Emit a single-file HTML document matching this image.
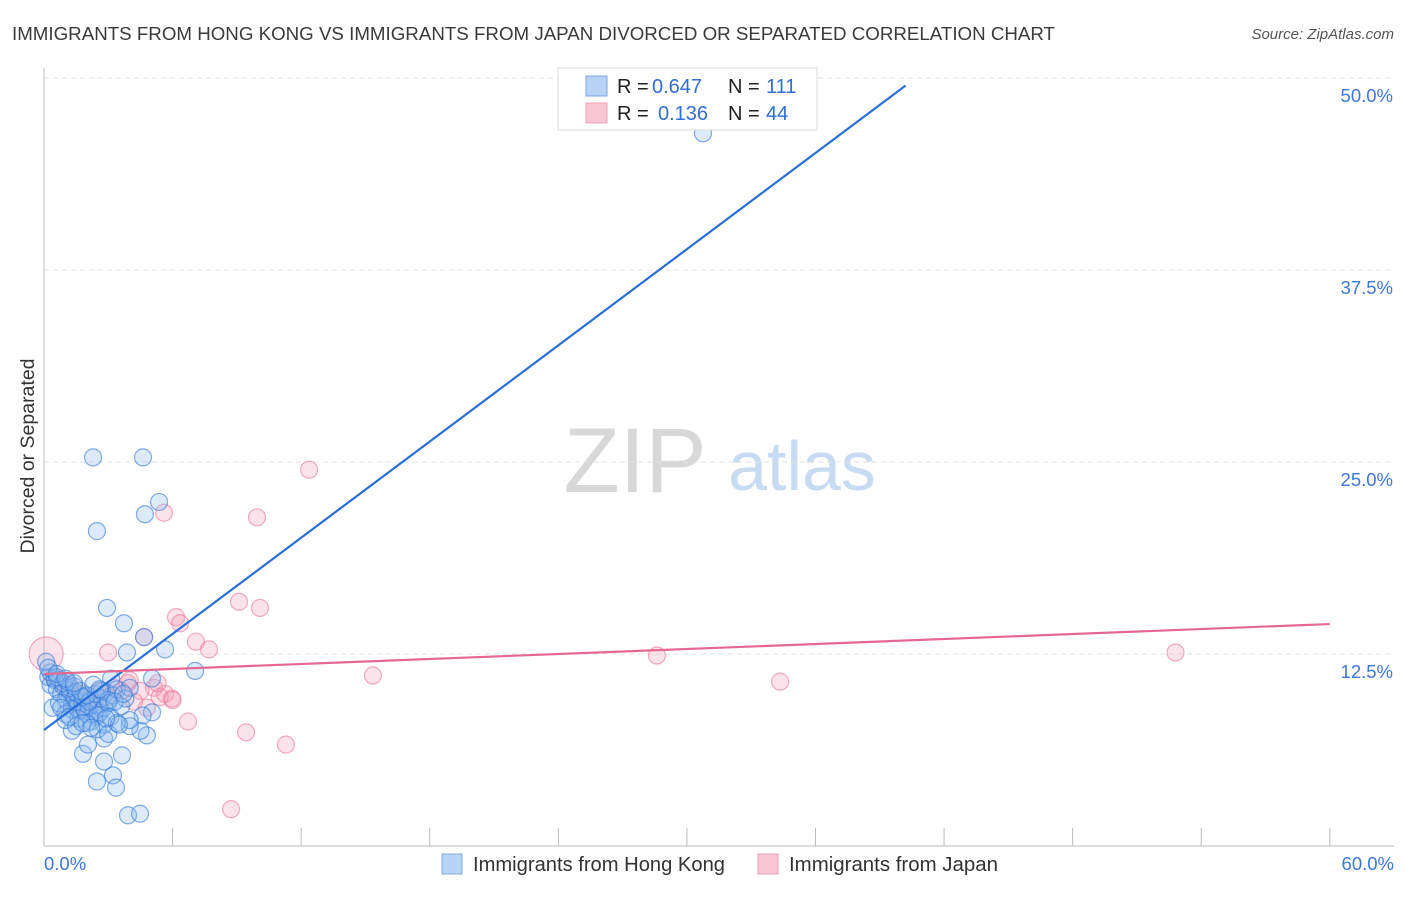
<!DOCTYPE html>
<html><head><meta charset="utf-8"><style>
body{margin:0;background:#fff;font-family:"Liberation Sans",sans-serif;}
svg text{font-family:"Liberation Sans",sans-serif;}
</style></head><body>
<svg id="chart" width="1406" height="892" xmlns="http://www.w3.org/2000/svg">
<text x="12" y="40" font-size="18.5" fill="#3a3a3a" textLength="1043" lengthAdjust="spacingAndGlyphs">IMMIGRANTS FROM HONG KONG VS IMMIGRANTS FROM JAPAN DIVORCED OR SEPARATED CORRELATION CHART</text>
<text x="1394" y="39" font-size="15" fill="#555" text-anchor="end" font-style="italic">Source: ZipAtlas.com</text>
<text transform="translate(34,456) rotate(-90)" font-size="19" fill="#333" text-anchor="middle" textLength="195" lengthAdjust="spacingAndGlyphs">Divorced or Separated</text>
<g>
<text x="635" y="492" font-size="92" fill="#d8d8d8" text-anchor="middle" font-family="Liberation Serif,serif">ZIP</text>
<text x="802" y="490" font-size="70" fill="#c9dbf3" text-anchor="middle">atlas</text>
</g>
<g id="grid"></g>
<g id="axes"></g>
<g id="pts"></g>
<g id="lines"></g>
<g>
<rect x="558" y="68" width="259" height="62" fill="#fff" stroke="#ddd"/>
<rect x="586" y="76" width="21" height="20" fill="#b8d3f5" stroke="#7aa9e6"/>
<rect x="586" y="103" width="21" height="20" fill="#f9c6d5" stroke="#eea1b8"/>
<text x="617" y="93" font-size="20" fill="#222">R =</text>
<text x="652" y="93" font-size="20" fill="#2f6fd6">0.647</text>
<text x="728" y="93" font-size="20" fill="#222">N =</text>
<text x="766" y="93" font-size="20" fill="#2f6fd6">111</text>
<text x="617" y="120" font-size="20" fill="#222">R =</text>
<text x="658" y="120" font-size="20" fill="#2f6fd6">0.136</text>
<text x="728" y="120" font-size="20" fill="#222">N =</text>
<text x="766" y="120" font-size="20" fill="#2f6fd6">44</text>
</g>
<g>
<rect x="442" y="854" width="20" height="20" fill="#b8d3f5" stroke="#7aa9e6"/>
<text x="473" y="871" font-size="20" fill="#333" textLength="252" lengthAdjust="spacingAndGlyphs">Immigrants from Hong Kong</text>
<rect x="758" y="854" width="20" height="20" fill="#f9c6d5" stroke="#eea1b8"/>
<text x="789" y="871" font-size="20" fill="#333" textLength="209" lengthAdjust="spacingAndGlyphs">Immigrants from Japan</text>
</g>
</svg>
<script>
const yTicks=[12.5,25,37.5,50];
const yTickLabels=["12.5%","25.0%","37.5%","50.0%"];
const xTickLabels=["0.0%","60.0%"];
const hkX=[2.29,4.62,5.37,4.71,2.47,2.94,3.73,4.67,3.87,5.65,7.05,30.75,5.04,3.13,1.82,2.05,2.47,3.22,3.36,2.8,3.64,3.92,4.48,2.8,4.8,4.5,4.0,5.04,4.6,4.0,1.3,
0.2,0.3,0.5,0.6,0.8,0.9,1.0,1.1,1.2,1.3,1.4,1.5,1.6,1.7,1.8,1.9,2.0,2.1,2.2,2.3,2.4,2.5,2.6,2.7,2.8,2.9,3.0,3.2,3.4,3.6,3.8,4.0,0.4,0.7,1.0,1.3,1.6,1.9,2.2,2.5,2.8,3.1,3.4,0.5,0.9,1.2,1.5,1.8,2.1,2.4,2.7,3.0,0.3,0.6,1.1,1.4,1.7,2.0,2.3,2.6,1.0,1.5,2.0,2.5,3.0,3.5,0.8,1.2,1.8,2.2,2.9,0.1,0.2,0.6,1.0,1.4,3.3,3.7];
const hkY=[25.3,25.3,22.4,21.6,20.5,15.5,14.5,13.6,12.6,12.8,11.4,46.4,10.9,10.9,6.0,6.6,4.2,4.6,3.8,5.5,5.9,2.0,2.1,7.0,7.2,7.5,7.8,8.7,8.5,8.2,7.5,
11.0,10.5,10.8,10.2,9.9,10.4,9.5,9.8,10.1,9.2,9.6,9.0,9.4,8.8,9.3,9.7,8.6,9.1,9.5,8.9,8.4,9.2,8.7,9.6,9.0,10.0,9.3,9.8,10.2,9.1,9.6,10.3,9.0,9.3,8.6,8.9,8.3,8.8,8.1,8.5,7.9,8.4,8.0,10.9,10.6,10.3,10.0,9.7,9.4,9.9,10.1,9.5,11.3,11.0,10.7,10.4,10.1,9.8,10.5,10.2,8.2,7.8,8.0,7.6,7.3,7.9,9.0,8.4,8.0,7.7,8.3,12.0,11.6,11.2,10.9,10.6,9.4,9.9];
const jpX=[12.37,9.94,5.6,9.1,10.08,6.16,6.35,7.09,7.7,4.67,2.99,0.1,28.6,52.8,15.35,34.35,6.72,9.43,11.29,8.73,5.13,5.65,5.97,5.4,4.0,4.5,3.6,2.6,1.45,0.75,2.15,1.2,1.8,2.4,3.0,3.3,3.9,4.2,4.8,5.3,6.0,0.5,1.0,2.0];
const jpY=[24.5,21.4,21.7,15.9,15.5,14.9,14.5,13.3,12.8,13.6,12.6,12.5,12.4,12.6,11.1,10.7,8.1,7.4,6.6,2.4,10.3,9.9,9.6,9.7,10.8,10.1,10.1,10.1,9.8,10.8,9.5,10.5,9.9,9.3,9.7,10.3,10.6,9.4,9.0,10.6,9.5,11.0,10.2,9.0];
const hkLine=[7.55,49.5], hkLineX=[0,40.2];
const jpLine=[11.2,14.45], jpLineX=[0,60];
const NS="http://www.w3.org/2000/svg";
const X=v=>44+v*21.43, Y=v=>846-v*15.36;
function mk(tag,attrs,parent){const e=document.createElementNS(NS,tag);for(const k in attrs)e.setAttribute(k,attrs[k]);document.getElementById(parent).appendChild(e);return e;}
yTicks.forEach((t,i)=>{
 const g=mk('line',{x1:44,x2:1394,y1:Y(t),y2:Y(t),stroke:'#e2e2e2','stroke-dasharray':'5,4'},'grid');
 
 
 const l=mk('text',{x:1393,y:Y(t)+24,'font-size':18.5,fill:'#3d78d6','text-anchor':'end'},'axes');
 l.textContent=yTickLabels[i];
 
 
});
let ax=mk('line',{x1:44,x2:44,y1:68,y2:846,stroke:'#bbb'},'axes');


ax=mk('line',{x1:44,x2:1394,y1:846,y2:846,stroke:'#bbb'},'axes');


for(let i=0;i<=10;i++){const t=mk('line',{x1:X(i*6),x2:X(i*6),y1:828,y2:846,stroke:'#bbb'},'axes');
 
 }
let xl=mk('text',{x:44,y:870,'font-size':18.5,fill:'#3d78d6'},'axes');xl.textContent=xTickLabels[0];


xl=mk('text',{x:1394,y:870,'font-size':18.5,fill:'#3d78d6','text-anchor':'end'},'axes');xl.textContent=xTickLabels[1];


jpX.forEach((x,i)=>{const c=mk('circle',{cx:X(x),cy:Y(jpY[i]),r:i==11?17:8.5,fill:'rgba(245,160,185,0.3)',stroke:'rgba(232,120,155,0.6)','stroke-width':1.2},'pts');
 
 });
hkX.forEach((x,i)=>{const c=mk('circle',{cx:X(x),cy:Y(hkY[i]),r:8.5,fill:'rgba(140,185,240,0.3)',stroke:'rgba(50,120,215,0.6)','stroke-width':1.2},'pts');
 
 });
let ln=mk('line',{x1:X(hkLineX[0]),y1:Y(hkLine[0]),x2:X(hkLineX[1]),y2:Y(hkLine[1]),stroke:'#2a6fd8','stroke-width':2.2},'lines');


ln=mk('line',{x1:X(jpLineX[0]),y1:Y(jpLine[0]),x2:X(jpLineX[1]),y2:Y(jpLine[1]),stroke:'#e5698f','stroke-width':2.2},'lines');


</script>
</body></html>
